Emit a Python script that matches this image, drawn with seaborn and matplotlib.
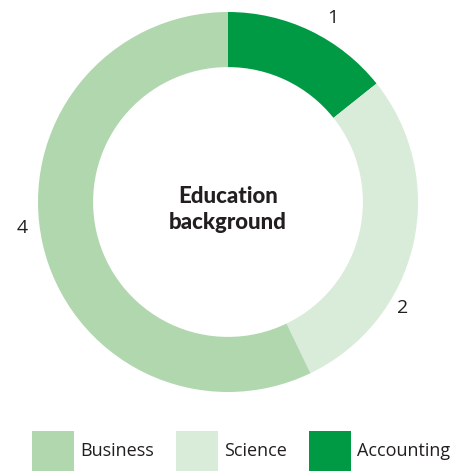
import matplotlib
matplotlib.use("Agg")
import matplotlib.pyplot as plt
from matplotlib.patches import Patch
import seaborn as sns

categories = ["Accounting", "Science", "Business"]
values = [1, 2, 4]
colors = ["#009A44", "#D9EBD9", "#B1D7AF"]
legend_order = ["Business", "Science", "Accounting"]
title = "Education\nbackground"

sns.set_theme(style="white")
plt.rcParams['font.family'] = ['Open Sans', 'DejaVu Sans']
TXT = "#231F20"

W, H = 462, 471
fig = plt.figure(figsize=(W / 100, H / 100), dpi=100)
cx, cy, R = 228, 202, 190
ax = fig.add_axes([(cx - R) / W, (H - cy - R) / H, 2 * R / W, 2 * R / H])

wedges, _ = ax.pie(values, colors=colors, startangle=90, counterclock=False,
                   radius=1.0, wedgeprops=dict(width=0.29, edgecolor="none"))
ax.set_xlim(-1, 1)
ax.set_ylim(-1, 1)
ax.set_aspect("equal")
ax.axis("off")

# value labels (positions in units of radius)
label_pos = [(0.553, 0.968), (0.921, -0.558), (-1.084, -0.137)]
for v, (x, y) in zip(values, label_pos):
    ax.text(x, y, str(v), ha="center", va="center", fontsize=14, color=TXT)

ax.text(0, -0.04, title, ha="center", va="center", fontsize=16,
        fontweight="black", family=['Lato', 'DejaVu Sans'], color=TXT,
        linespacing=1.3)

cmap = dict(zip(categories, colors))
handles = [Patch(facecolor=cmap[c], edgecolor="none", label=c) for c in legend_order]
fig.legend(handles=handles, loc="lower left", bbox_to_anchor=(32 / W, 0.0),
           ncol=3, frameon=False, fontsize=13, handlelength=2.3, handleheight=3.05,
           handletextpad=0.35, columnspacing=1.25, borderpad=0, borderaxespad=0,
           labelcolor=TXT)

fig.savefig("out.png", dpi=100)
